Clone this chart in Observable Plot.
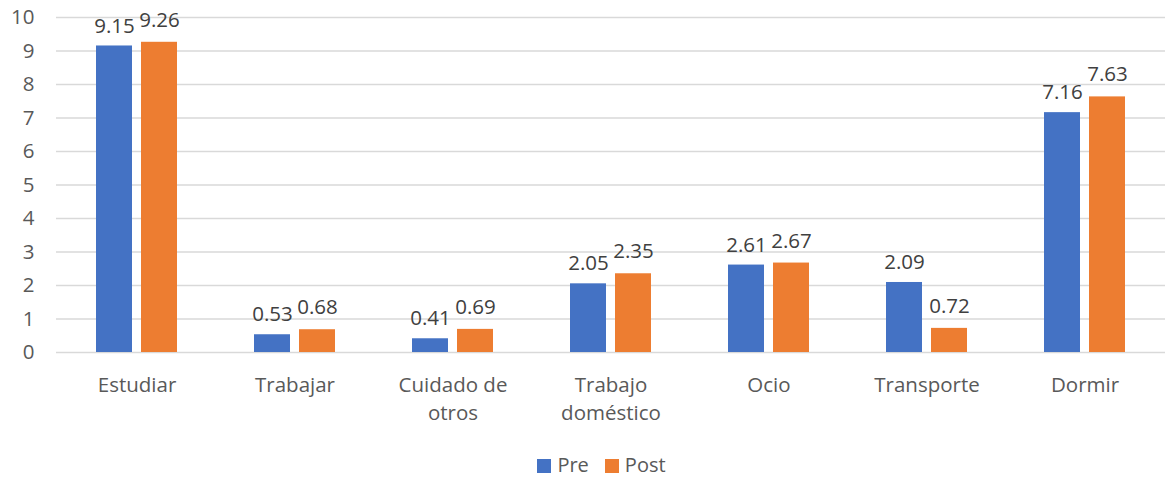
<!DOCTYPE html>
<html>
<head>
<meta charset="utf-8">
<script src="https://cdn.jsdelivr.net/npm/d3@7"></script>
<script src="https://cdn.jsdelivr.net/npm/@observablehq/plot@0.6"></script>
<style>
  body { margin: 0; background: #fff; font-family: "Open Sans", sans-serif; }
  #legend { display: flex; justify-content: center; align-items: center; gap: 16px; height: 40px; margin-top: 4px; font-size: 20px; color: #595959; padding-left: 34px; }
  #legend span.sw { display: inline-block; width: 14px; height: 14px; margin-right: 6px; vertical-align: -1px; }
</style>
</head>
<body>
<div id="chart"></div>
<div id="legend"></div>
<script>
const categories = ["Estudiar", "Trabajar", "Cuidado de otros", "Trabajo doméstico", "Ocio", "Transporte", "Dormir"];
const series = ["Pre", "Post"];
const preValues = [9.15, 0.53, 0.41, 2.05, 2.61, 2.09, 7.16];
const postValues = [9.26, 0.68, 0.69, 2.35, 2.67, 0.72, 7.63];
const yTicks = [0, 1, 2, 3, 4, 5, 6, 7, 8, 9, 10];
const colors = {Pre: "#4472C4", Post: "#ED7D31"};
const tickLabels = {"Cuidado de otros": "Cuidado de\notros", "Trabajo doméstico": "Trabajo\ndoméstico"};

const pre = categories.map((c, i) => ({category: c, series: "Pre", value: preValues[i]}));
const post = categories.map((c, i) => ({category: c, series: "Post", value: postValues[i]}));

const plot = Plot.plot({
  width: 1169,
  height: 440,
  marginTop: 17,
  marginBottom: 88,
  marginLeft: 56,
  marginRight: 4,
  style: {fontFamily: "Open Sans, sans-serif", fontSize: "20px", color: "#595959", background: "#fff"},
  x: {domain: categories, paddingInner: 0.49, paddingOuter: 0.245, label: null},
  y: {domain: [0, 10], label: null},
  marks: [
    Plot.ruleY(yTicks, {stroke: "#D9D9D9", strokeWidth: 1.5}),
    Plot.barY(pre, {x: "category", y: "value", fill: colors.Pre, insetRight: 45}),
    Plot.barY(post, {x: "category", y: "value", fill: colors.Post, insetLeft: 45}),
    Plot.text(pre, {x: "category", y: "value", text: d => d.value.toFixed(2), dx: -22.5, dy: -20, fill: "#404040", fontSize: 20.5}),
    Plot.text(post, {x: "category", y: "value", text: d => d.value.toFixed(2), dx: 22.5, dy: -22, fill: "#404040", fontSize: 20.5}),
    Plot.axisY({ticks: yTicks, tickSize: 0, tickPadding: 22, label: null, fill: "#595959", fontSize: 20.5}),
    Plot.axisX({tickSize: 0, tickPadding: 20, label: null, fill: "#595959", fontSize: 20.5, tickFormat: d => tickLabels[d] || d, lineHeight: 1.35})
  ]
});
document.getElementById("chart").appendChild(plot);

const legend = document.getElementById("legend");
for (const s of series) {
  const item = document.createElement("div");
  item.innerHTML = `<span class="sw" style="background:${colors[s]}"></span>${s}`;
  legend.appendChild(item);
}
</script>
</body>
</html>
